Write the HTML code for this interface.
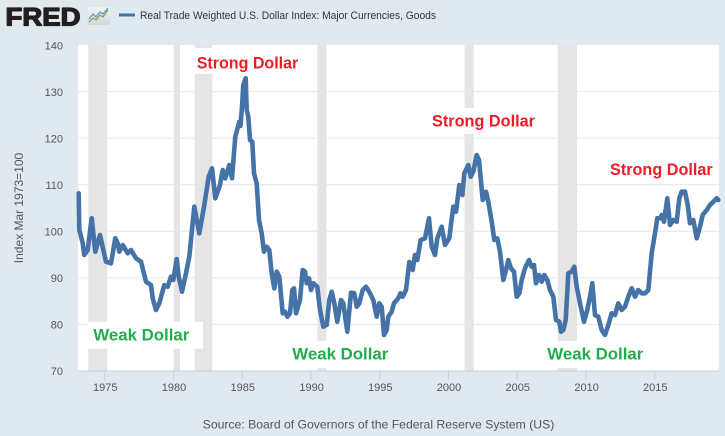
<!DOCTYPE html>
<html>
<head>
<meta charset="utf-8">
<style>
html,body{margin:0;padding:0;background:#e1e9f0;}
body{width:725px;height:436px;overflow:hidden;}
svg{display:block;font-family:"Liberation Sans",Arial,sans-serif;}
</style>
</head>
<body>
<svg width="725" height="436" viewBox="0 0 725 436" xmlns="http://www.w3.org/2000/svg">
  <defs>
    <linearGradient id="ig" x1="0" y1="0" x2="0" y2="1">
      <stop offset="0" stop-color="#f4f4f4"/>
      <stop offset="1" stop-color="#d6d6d6"/>
    </linearGradient>
  </defs>
  <rect x="0" y="0" width="725" height="436" fill="#e1e9f0"/>

  <!-- Header -->
  <text x="5.5" y="25.5" font-size="25" font-weight="bold" fill="#231f20" stroke="#231f20" stroke-width="1.3" stroke-linejoin="round" textLength="75" lengthAdjust="spacingAndGlyphs">FRED</text>
  <rect x="87.5" y="7" width="22.5" height="18" fill="url(#ig)"/>
  <polyline points="89,22 93,18 96,20 100,15 103,17 108,10" fill="none" stroke="#6aa84f" stroke-width="1.2"/>
  <polyline points="89,19 93,14 96,17 100,12 103,14 108,8" fill="none" stroke="#5b8fc7" stroke-width="1.2"/>
  <rect x="119" y="13.5" width="16" height="3" fill="#4572a7"/>
  <text x="140" y="18.8" font-size="11" fill="#333" textLength="296" lengthAdjust="spacingAndGlyphs">Real Trade Weighted U.S. Dollar Index: Major Currencies, Goods</text>

  <!-- Plot area -->
  <rect x="78" y="45" width="641" height="326" fill="#ffffff"/>

  <!-- gridlines -->
  <g stroke="#e6e6e6" stroke-width="1">
    <line x1="78" y1="91.6" x2="719" y2="91.6"/>
    <line x1="78" y1="138.1" x2="719" y2="138.1"/>
    <line x1="78" y1="184.7" x2="719" y2="184.7"/>
    <line x1="78" y1="231.3" x2="719" y2="231.3"/>
    <line x1="78" y1="277.9" x2="719" y2="277.9"/>
    <line x1="78" y1="324.4" x2="719" y2="324.4"/>
  </g>

  <!-- recession bands -->
  <g fill="#e5e5e5">
    <rect x="88.3" y="45" width="19" height="326"/>
    <rect x="173.7" y="45" width="6.3" height="326"/>
    <rect x="194.7" y="45" width="17.6" height="326"/>
    <rect x="317.5" y="45" width="9" height="326"/>
    <rect x="464.5" y="45" width="9.2" height="326"/>
    <rect x="557.7" y="45" width="19.3" height="326"/>
  </g>

  <!-- axis -->
  <line x1="78" y1="371" x2="719" y2="371" stroke="#c7d0db" stroke-width="1"/>
  <g stroke="#c7d0db" stroke-width="1">
    <line x1="104.7" y1="371" x2="104.7" y2="380"/>
    <line x1="173.5" y1="371" x2="173.5" y2="380"/>
    <line x1="242.2" y1="371" x2="242.2" y2="380"/>
    <line x1="311" y1="371" x2="311" y2="380"/>
    <line x1="379.7" y1="371" x2="379.7" y2="380"/>
    <line x1="448.5" y1="371" x2="448.5" y2="380"/>
    <line x1="517.2" y1="371" x2="517.2" y2="380"/>
    <line x1="586" y1="371" x2="586" y2="380"/>
    <line x1="654.7" y1="371" x2="654.7" y2="380"/>
  </g>

  <!-- y tick labels -->
  <g font-size="11" fill="#555" text-anchor="end">
    <text x="63" y="49.5">140</text>
    <text x="63" y="96">130</text>
    <text x="63" y="142.5">120</text>
    <text x="63" y="189">110</text>
    <text x="63" y="235.5">100</text>
    <text x="63" y="282">90</text>
    <text x="63" y="328.5">80</text>
    <text x="63" y="375">70</text>
  </g>
  <!-- x tick labels -->
  <g font-size="11" fill="#555" text-anchor="middle">
    <text x="105.3" y="391">1975</text>
    <text x="174" y="391">1980</text>
    <text x="242.8" y="391">1985</text>
    <text x="311.6" y="391">1990</text>
    <text x="380.3" y="391">1995</text>
    <text x="449" y="391">2000</text>
    <text x="517.8" y="391">2005</text>
    <text x="586.6" y="391">2010</text>
    <text x="655.3" y="391">2015</text>
  </g>

  <text transform="translate(23,208) rotate(-90)" font-size="12" fill="#555" text-anchor="middle">Index Mar 1973=100</text>

  <!-- series -->
  <polyline fill="none" stroke="#4572a7" stroke-width="4.6" stroke-linejoin="round" stroke-linecap="round" points="
78.7,193.3 79.3,230 82.7,243 84.3,255 87.7,250 91.7,218.3 95.3,251.7 100,235 106,261.7 111,263.3
115.3,238.3 117.7,243.3 119.3,251.7 122.7,245 127.7,253.3 131,250 136,258.3 141,261.7 146,281.7 151,285
152.7,298.3 156,310 159.3,303.3 164.3,285 167.7,286.7 171,276.7 173.3,280 176.7,259 178.7,276.7 182,291.7
186,273.3 189.3,256.7 194.3,206.7 199.3,233.3 204.3,205 208.7,176.7 212,168.3 215.3,198.3 220,185 222.7,170
225.3,178.3 229.3,165 232,178.3 235.3,136.7 239.3,121.7 240.5,126 242,106.7 243.3,85 245.7,78.3 246.7,110
248.3,116.7 250,140 252.3,141.7 254,173.3 256.7,183.3 259,220 261.7,233.3 264,251.7 266.7,246.7 269.3,250
271.7,273.3 274.3,288.3 276.7,271.7 279.3,276.7 282.7,313.3 285,311.7 287.3,316.7 290,313.3 292.3,290 294,288.3
296,313.3 300,300 302.7,270 305,271.7 306.7,283.3 309,278.3 311,290 313.3,283.3 317.3,286.7 320,310
323.3,326.7 326.7,325 329.3,300 331.7,291.7 334.3,303.3 337.3,321.7 341,300 343.3,303.3 347.3,331.7 351,292.7
354.3,293.3 356.7,306.7 359.3,303.3 362.7,290 366,286.7 370,293.3 373.3,300 376.7,316.7 379.3,303.3 381.7,306.7
384,335 386.7,330 388.3,316.7 391.7,311.7 394,303.3 398.3,298.3 400.5,293.3 402.7,296.7 406,290 409.3,262
412.7,270 415,255 417.3,260 420.7,240 425,238.3 429,218.3 431.7,246.7 435,255 437.3,238.3 441.7,226.7
445,245 449.3,238.3 450.7,226.7 453.3,206.7 456,211.7 459.3,185 462.3,195 464.3,173.3 468.3,165 470.7,176.7
473.3,171.7 476.7,155 479,160 482.7,200 486,191.7 488.3,201.7 491.7,221.7 494.3,240 497.3,238.3 500,251.7
503.3,280 506,270 508.3,260 511,268.3 514,271.7 516.7,296.7 519.3,293.3 521.7,280 525,268.3 529,260
531.7,266.7 534,265 536,283.3 539,275 541.7,281.7 544.3,275 547.3,280 550,290 553.3,296.7 556,320
559.3,321.7 561,331.7 563.3,330 565.7,320 568.3,273.3 571.7,271.7 574.3,266.7 576.7,286.7 580,303.3 584,321.7
587.3,310 590,296.7 592.3,283.3 595,315 598.3,316.7 601.7,330 605,335 608.3,325 611.7,313.3 615,315
618.3,303.3 621.7,310 625,306.7 628.3,296.7 631.7,288.3 635,296.7 638.3,290 641.7,293.3 645,293.3 648.3,290
651.7,253.3 655,233.3 657.3,218.3 660,218.3 661.7,215 664,221.7 667.3,198.3 670,225 673.3,220 676.7,221.7
679.3,198.3 681.7,191.7 685,191.7 687.7,205 690,223.3 693.3,220 696.7,238.3 700,226.7 702.7,215 706.7,210
710,205 713.3,201.7 716.7,198.3 718.3,200"/>

  <!-- annotation boxes -->
  <g fill="#ffffff">
    <rect x="190" y="48" width="115" height="26"/>
    <rect x="428" y="108" width="112" height="26"/>
    <rect x="88" y="321.7" width="115" height="27"/>
    <rect x="287" y="341" width="107" height="27"/>
    <rect x="542" y="341" width="107" height="27"/>
  </g>

  <!-- annotations -->
  <g font-size="17" font-weight="bold" fill="#ee1c25">
    <text x="196.7" y="68.3" textLength="101.6" lengthAdjust="spacingAndGlyphs">Strong Dollar</text>
    <text x="432" y="126.7" textLength="103" lengthAdjust="spacingAndGlyphs">Strong Dollar</text>
    <text x="610" y="175" textLength="102.7" lengthAdjust="spacingAndGlyphs">Strong Dollar</text>
  </g>
  <g font-size="17" font-weight="bold" fill="#1fae4b">
    <text x="93.3" y="340.7" textLength="96" lengthAdjust="spacingAndGlyphs">Weak Dollar</text>
    <text x="292.3" y="359.3" textLength="96" lengthAdjust="spacingAndGlyphs">Weak Dollar</text>
    <text x="547.3" y="359.3" textLength="96" lengthAdjust="spacingAndGlyphs">Weak Dollar</text>
  </g>

  <!-- source -->
  <text x="202.7" y="428.5" font-size="12" fill="#555" textLength="351.6" lengthAdjust="spacingAndGlyphs">Source: Board of Governors of the Federal Reserve System (US)</text>
</svg>
</body>
</html>
